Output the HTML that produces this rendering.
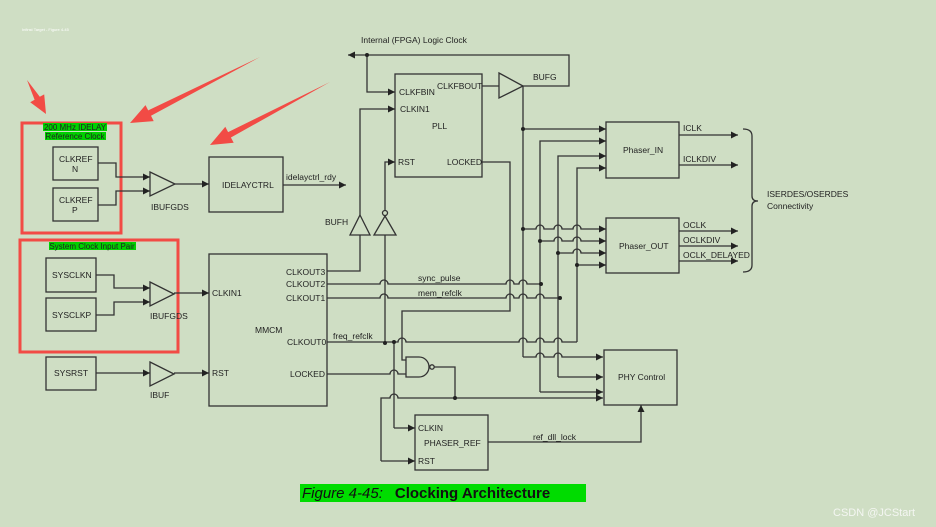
<!DOCTYPE html>
<html><head><meta charset="utf-8"><style>
html,body{margin:0;padding:0;background:#cfdec4;}
svg{display:block;font-family:"Liberation Sans",Arial,sans-serif;}
</style></head><body>
<svg width="936" height="527" viewBox="0 0 936 527" xmlns="http://www.w3.org/2000/svg">
<defs>
<marker id="a" viewBox="0 0 10 10" refX="10" refY="5" markerWidth="9" markerHeight="7" markerUnits="userSpaceOnUse" orient="auto"><path d="M0,0L10,5L0,10z" fill="#222"/></marker>
</defs>
<rect width="936" height="527" fill="#cfdec4"/>
<text x="22" y="31" font-size="4" fill="#fff">Infinst Target - Figure 4-45</text>

<g fill="#f24b45">
<polygon points="27,80 39.8,96.8 44.2,94.4 46,114 30.2,102.2 34.6,99.8"/>
<polygon points="260,57 151,115.8 153.7,121.1 130,123 145.5,105.1 148.2,110.4"/>
<polygon points="330,82 230.9,137.5 233.7,142.8 210,145 225.3,126.8 228.1,132.1"/>
</g>
<rect x="22" y="123" width="99" height="110" fill="none" stroke="#f24b45" stroke-width="3"/>
<rect x="20" y="240" width="158" height="112" fill="none" stroke="#f24b45" stroke-width="3"/>
<rect x="43" y="123" width="64" height="8" fill="#00d000"/>
<rect x="45" y="132" width="61" height="8" fill="#00d000"/>
<rect x="49" y="242" width="87" height="8" fill="#00d000"/>

<g font-size="8" fill="#222">
<text x="75" y="130" text-anchor="middle">200 MHz IDELAY</text>
<text x="75" y="139" text-anchor="middle">Reference Clock</text>
<text x="92" y="249" text-anchor="middle">System Clock Input Pair</text>
</g>

<g fill="none" stroke="#333" stroke-width="1.3">
<rect x="53" y="147" width="45" height="33"/>
<rect x="53" y="188" width="45" height="33"/>
<rect x="209" y="157" width="74" height="55"/>
<rect x="46" y="258" width="50" height="34"/>
<rect x="46" y="298" width="50" height="33"/>
<rect x="46" y="357" width="50" height="33"/>
<rect x="209" y="254" width="118" height="152"/>
<rect x="395" y="74" width="87" height="103"/>
<rect x="606" y="122" width="73" height="56"/>
<rect x="606" y="218" width="73" height="55"/>
<rect x="604" y="350" width="73" height="55"/>
<rect x="415" y="415" width="73" height="55"/>
<polygon points="150,172 175,184 150,196"/>
<polygon points="150,282 174,294 150,306"/>
<polygon points="150,362 174,374 150,386"/>
<polygon points="499,73 523,86 499,98"/>
<polygon points="360,215 370,235 350,235"/>
<polygon points="385,216 396,235 374,235"/>
<circle cx="385" cy="213" r="2.5"/>
<path d="M406,357 H419 A10,10 0 0 1 419,377 H406 Z"/>
<circle cx="432" cy="367" r="2.2"/>
<path d="M743,129 Q752,129 752,136 V196 Q752,201 758,201 Q752,201 752,206 V265 Q752,272 743,272"/>
</g>

<g fill="none" stroke="#333" stroke-width="1.3">
<polyline points="98,163 116,163 116,177 150,177" marker-end="url(#a)"/>
<polyline points="98,205 116,205 116,191 150,191" marker-end="url(#a)"/>
<line x1="175" y1="184" x2="209" y2="184" marker-end="url(#a)"/>
<line x1="283" y1="185" x2="346" y2="185" marker-end="url(#a)"/>
<polyline points="96,275 114,275 114,288 150,288" marker-end="url(#a)"/>
<polyline points="96,315 114,315 114,302 150,302" marker-end="url(#a)"/>
<line x1="174" y1="293" x2="209" y2="293" marker-end="url(#a)"/>
<line x1="96" y1="373" x2="150" y2="373" marker-end="url(#a)"/>
<line x1="174" y1="373" x2="209" y2="373" marker-end="url(#a)"/>
<polyline points="523,86 569,86 569,55 348,55" marker-end="url(#a)"/>
<polyline points="367,55 367,92 395,92" marker-end="url(#a)"/>
<line x1="482" y1="86" x2="499" y2="86"/>
<polyline points="327,271 360,271 360,235"/>
<polyline points="360,215 360,109 395,109" marker-end="url(#a)"/>
<polyline points="385,210 385,162 395,162" marker-end="url(#a)"/>
<line x1="385" y1="235" x2="385" y2="343"/>
<path d="M327,284 H380 a4,4 0 0 1 8,0 H506 a4,4 0 0 1 8,0 H519 a4,4 0 0 1 8,0 H541"/>
<path d="M327,298 H380 a4,4 0 0 1 8,0 H506 a4,4 0 0 1 8,0 H519 a4,4 0 0 1 8,0 H536 a4,4 0 0 1 8,0 H560"/>
<path d="M327,342 H398 a4,4 0 0 1 8,0 H519 a4,4 0 0 1 8,0 H536 a4,4 0 0 1 8,0 H554 a4,4 0 0 1 8,0 H577"/>
<path d="M327,374 H390 a4,4 0 0 1 8,0 H406"/>
<polyline points="482,162 510,162 510,311 402,311 402,360 406,360"/>
<line x1="394" y1="342" x2="394" y2="428"/>
<line x1="394" y1="428" x2="415" y2="428" marker-end="url(#a)"/>
<polyline points="434,367 455,367 455,398"/>
<path d="M381,461 V398 H390 a4,4 0 0 1 8,0 H603" marker-end="url(#a)"/>
<line x1="381" y1="461" x2="415" y2="461" marker-end="url(#a)"/>
<polyline points="488,442 641,442 641,405" marker-end="url(#a)"/>
<line x1="523" y1="86" x2="523" y2="357"/>
<path d="M523,357 H536 a4,4 0 0 1 8,0 H554 a4,4 0 0 1 8,0 H603" marker-end="url(#a)"/>
<line x1="523" y1="129" x2="606" y2="129" marker-end="url(#a)"/>
<polyline points="540,392 540,141 606,141" marker-end="url(#a)"/>
<line x1="540" y1="392" x2="603" y2="392" marker-end="url(#a)"/>
<polyline points="558,377 558,156 606,156" marker-end="url(#a)"/>
<path d="M558,377 H603" marker-end="url(#a)"/>
<polyline points="577,342 577,168 606,168" marker-end="url(#a)"/>
<path d="M523,229 H536 a4,4 0 0 1 8,0 H554 a4,4 0 0 1 8,0 H573 a4,4 0 0 1 8,0 H606" marker-end="url(#a)"/>
<path d="M540,241 H554 a4,4 0 0 1 8,0 H573 a4,4 0 0 1 8,0 H606" marker-end="url(#a)"/>
<path d="M558,253 H573 a4,4 0 0 1 8,0 H606" marker-end="url(#a)"/>
<line x1="577" y1="265" x2="606" y2="265" marker-end="url(#a)"/>
<line x1="679" y1="135" x2="738" y2="135" marker-end="url(#a)"/>
<line x1="679" y1="165" x2="738" y2="165" marker-end="url(#a)"/>
<line x1="679" y1="231" x2="738" y2="231" marker-end="url(#a)"/>
<line x1="679" y1="246" x2="738" y2="246" marker-end="url(#a)"/>
<line x1="679" y1="261" x2="738" y2="261" marker-end="url(#a)"/>
</g>
<g fill="#222">
<circle cx="367" cy="55" r="2"/><circle cx="523" cy="129" r="2"/><circle cx="523" cy="229" r="2"/>
<circle cx="540" cy="241" r="2"/><circle cx="558" cy="253" r="2"/><circle cx="577" cy="265" r="2"/>
<circle cx="541" cy="284" r="2"/><circle cx="560" cy="298" r="2"/><circle cx="385" cy="343" r="2"/>
<circle cx="394" cy="342" r="2"/><circle cx="455" cy="398" r="2"/>
</g>

<g font-size="8.5" fill="#222">
<text x="59" y="162">CLKREF</text><text x="72" y="172">N</text>
<text x="59" y="203">CLKREF</text><text x="72" y="213">P</text>
<text x="151" y="210">IBUFGDS</text>
<text x="222" y="188">IDELAYCTRL</text>
<text x="286" y="180">idelayctrl_rdy</text>
<text x="52" y="278">SYSCLKN</text>
<text x="52" y="318">SYSCLKP</text>
<text x="150" y="319">IBUFGDS</text>
<text x="54" y="376">SYSRST</text>
<text x="150" y="398">IBUF</text>
<text x="212" y="296">CLKIN1</text>
<text x="212" y="376">RST</text>
<text x="255" y="333">MMCM</text>
<text x="286" y="275">CLKOUT3</text>
<text x="286" y="287">CLKOUT2</text>
<text x="286" y="301">CLKOUT1</text>
<text x="287" y="345">CLKOUT0</text>
<text x="290" y="377">LOCKED</text>
<text x="333" y="339">freq_refclk</text>
<text x="418" y="281">sync_pulse</text>
<text x="418" y="296">mem_refclk</text>
<text x="325" y="225">BUFH</text>
<text x="361" y="43">Internal (FPGA) Logic Clock</text>
<text x="399" y="95">CLKFBIN</text>
<text x="437" y="89">CLKFBOUT</text>
<text x="400" y="112">CLKIN1</text>
<text x="432" y="129">PLL</text>
<text x="398" y="165">RST</text>
<text x="447" y="165">LOCKED</text>
<text x="533" y="80">BUFG</text>
<text x="623" y="153">Phaser_IN</text>
<text x="619" y="249">Phaser_OUT</text>
<text x="683" y="131">ICLK</text>
<text x="683" y="162">ICLKDIV</text>
<text x="683" y="228">OCLK</text>
<text x="683" y="243">OCLKDIV</text>
<text x="683" y="258">OCLK_DELAYED</text>
<text x="767" y="197">ISERDES/OSERDES</text>
<text x="767" y="209">Connectivity</text>
<text x="618" y="380">PHY Control</text>
<text x="418" y="431">CLKIN</text>
<text x="424" y="446">PHASER_REF</text>
<text x="418" y="464">RST</text>
<text x="533" y="440">ref_dll_lock</text>
</g>

<rect x="300" y="484" width="286" height="18" fill="#00dc00"/>
<text x="302" y="498" font-size="15" fill="#111"><tspan font-style="italic">Figure 4-45:</tspan><tspan dx="12" font-weight="bold">Clocking Architecture</tspan></text>
<text x="833" y="516" font-size="11" fill="#f4f6f2">CSDN @JCStart</text>
</svg>
</body></html>
